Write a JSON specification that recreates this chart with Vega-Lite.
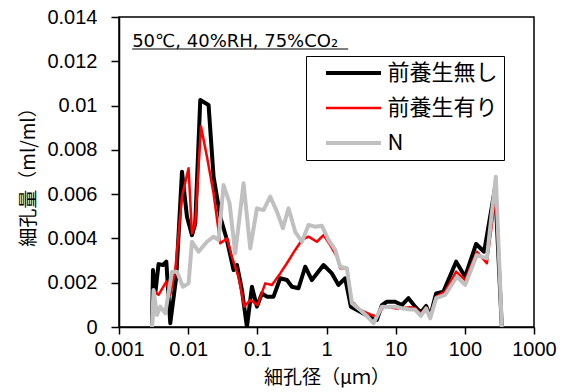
{
  "$schema": "https://vega.github.io/schema/vega-lite/v6.json",
  "width": 415,
  "height": 310,
  "autosize": {"type": "none"},
  "padding": {"left": 119, "top": 17, "right": 33, "bottom": 65},
  "config": {
    "view": {"stroke": "black", "strokeWidth": 1.5},
    "font": "Liberation Sans, Noto Sans CJK JP",
    "axis": {
      "grid": false,
      "domainColor": "black",
      "domainWidth": 1.5,
      "tickColor": "black",
      "tickWidth": 1.5,
      "labelColor": "black",
      "titleColor": "black",
      "labelFontSize": 20,
      "titleFontSize": 19,
      "titleFontWeight": "normal",
      "titleFont": "Noto Sans CJK JP",
      "labelFont": "Liberation Sans"
    }
  },
  "datasets": {
    "pore": [
      {"s": "前養生無し", "d": 0.0030, "v": 0},
      {"s": "前養生無し", "d": 0.0031, "v": 0.00257},
      {"s": "前養生無し", "d": 0.00335, "v": 0.00152},
      {"s": "前養生無し", "d": 0.00373, "v": 0.00284},
      {"s": "前養生無し", "d": 0.00432, "v": 0.0028},
      {"s": "前養生無し", "d": 0.00483, "v": 0.00295},
      {"s": "前養生無し", "d": 0.00551, "v": 0.00017},
      {"s": "前養生無し", "d": 0.00673, "v": 0.00227},
      {"s": "前養生無し", "d": 0.00814, "v": 0.00701},
      {"s": "前養生無し", "d": 0.00961, "v": 0.00498},
      {"s": "前養生無し", "d": 0.01135, "v": 0.00415},
      {"s": "前養生無し", "d": 0.01266, "v": 0.00468},
      {"s": "前養生無し", "d": 0.01496, "v": 0.01025},
      {"s": "前養生無し", "d": 0.01972, "v": 0.01003},
      {"s": "前養生無し", "d": 0.02328, "v": 0.00679},
      {"s": "前養生無し", "d": 0.0291, "v": 0.00498},
      {"s": "前養生無し", "d": 0.03636, "v": 0.00393},
      {"s": "前養生無し", "d": 0.04531, "v": 0.00257},
      {"s": "前養生無し", "d": 0.05073, "v": 0.0028},
      {"s": "前養生無し", "d": 0.05991, "v": 0.00167},
      {"s": "前養生無し", "d": 0.07075, "v": 0},
      {"s": "前養生無し", "d": 0.08356, "v": 0.00182},
      {"s": "前養生無し", "d": 0.09868, "v": 0.00092},
      {"s": "前養生無し", "d": 0.1166, "v": 0.00152},
      {"s": "前養生無し", "d": 0.1376, "v": 0.00137},
      {"s": "前養生無し", "d": 0.1715, "v": 0.00137},
      {"s": "前養生無し", "d": 0.2143, "v": 0.0022},
      {"s": "前養生無し", "d": 0.2677, "v": 0.00212},
      {"s": "前養生無し", "d": 0.3162, "v": 0.00182},
      {"s": "前養生無し", "d": 0.3939, "v": 0.00175},
      {"s": "前養生無し", "d": 0.4923, "v": 0.00272},
      {"s": "前養生無し", "d": 0.6152, "v": 0.00212},
      {"s": "前養生無し", "d": 0.905, "v": 0.0028},
      {"s": "前養生無し", "d": 1.197, "v": 0.00242},
      {"s": "前養生無し", "d": 1.491, "v": 0.0019},
      {"s": "前養生無し", "d": 1.863, "v": 0.0022},
      {"s": "前養生無し", "d": 2.252, "v": 0.00092},
      {"s": "前養生無し", "d": 3.069, "v": 0.00069},
      {"s": "前養生無し", "d": 4.531, "v": 0.00039},
      {"s": "前養生無し", "d": 5.35, "v": 0.00032},
      {"s": "前養生無し", "d": 6.319, "v": 0.00099},
      {"s": "前養生無し", "d": 7.462, "v": 0.00114},
      {"s": "前養生無し", "d": 9.835, "v": 0.00114},
      {"s": "前養生無し", "d": 12.29, "v": 0.00099},
      {"s": "前養生無し", "d": 15.31, "v": 0.0013},
      {"s": "前養生無し", "d": 19.13, "v": 0.00092},
      {"s": "前養生無し", "d": 23.13, "v": 0.00065},
      {"s": "前養生無し", "d": 27.6, "v": 0.00095},
      {"s": "前養生無し", "d": 31.52, "v": 0.00047},
      {"s": "前養生無し", "d": 38.49, "v": 0.00152},
      {"s": "前養生無し", "d": 49.07, "v": 0.0016},
      {"s": "前養生無し", "d": 74.86, "v": 0.00295},
      {"s": "前養生無し", "d": 101, "v": 0.00227},
      {"s": "前養生無し", "d": 145.6, "v": 0.00375},
      {"s": "前養生無し", "d": 190.1, "v": 0.0034},
      {"s": "前養生無し", "d": 274.1, "v": 0.0063},
      {"s": "前養生無し", "d": 342.5, "v": 0},

      {"s": "前養生有り", "d": 0.0030, "v": 0},
      {"s": "前養生有り", "d": 0.00316, "v": 0.00167},
      {"s": "前養生有り", "d": 0.00373, "v": 0.00145},
      {"s": "前養生有り", "d": 0.00483, "v": 0.00205},
      {"s": "前養生有り", "d": 0.00551, "v": 0.00145},
      {"s": "前養生有り", "d": 0.00651, "v": 0.00257},
      {"s": "前養生有り", "d": 0.00814, "v": 0.00589},
      {"s": "前養生有り", "d": 0.01013, "v": 0.00717},
      {"s": "前養生有り", "d": 0.01135, "v": 0.00423},
      {"s": "前養生有り", "d": 0.01266, "v": 0.00468},
      {"s": "前養生有り", "d": 0.01531, "v": 0.00905},
      {"s": "前養生有り", "d": 0.0187, "v": 0.00769},
      {"s": "前養生有り", "d": 0.02328, "v": 0.00604},
      {"s": "前養生有り", "d": 0.0291, "v": 0.00378},
      {"s": "前養生有り", "d": 0.03636, "v": 0.004},
      {"s": "前養生有り", "d": 0.04296, "v": 0.00317},
      {"s": "前養生有り", "d": 0.05349, "v": 0.00227},
      {"s": "前養生有り", "d": 0.06468, "v": 0.00092},
      {"s": "前養生有り", "d": 0.07897, "v": 0.00122},
      {"s": "前養生有り", "d": 0.1007, "v": 0.00099},
      {"s": "前養生有り", "d": 0.1301, "v": 0.00197},
      {"s": "前養生有り", "d": 0.1626, "v": 0.0019},
      {"s": "前養生有り", "d": 0.2143, "v": 0.00242},
      {"s": "前養生有り", "d": 0.2677, "v": 0.00288},
      {"s": "前養生有り", "d": 0.3529, "v": 0.00348},
      {"s": "前養生有り", "d": 0.4411, "v": 0.00393},
      {"s": "前養生有り", "d": 0.5494, "v": 0.00408},
      {"s": "前養生有り", "d": 0.7265, "v": 0.00385},
      {"s": "前養生有り", "d": 0.905, "v": 0.00415},
      {"s": "前養生有り", "d": 1.131, "v": 0.0037},
      {"s": "前養生有り", "d": 1.414, "v": 0.00317},
      {"s": "前養生有り", "d": 1.578, "v": 0.00265},
      {"s": "前養生有り", "d": 1.971, "v": 0.00265},
      {"s": "前養生有り", "d": 2.329, "v": 0.00114},
      {"s": "前養生有り", "d": 3.069, "v": 0.00077},
      {"s": "前養生有り", "d": 4.531, "v": 0.00054},
      {"s": "前養生有り", "d": 5.35, "v": 0.00047},
      {"s": "前養生有り", "d": 6.664, "v": 0.00092},
      {"s": "前養生有り", "d": 10.4, "v": 0.00084},
      {"s": "前養生有り", "d": 16.2, "v": 0.00089},
      {"s": "前養生有り", "d": 19.13, "v": 0.00085},
      {"s": "前養生有り", "d": 23.13, "v": 0.0006},
      {"s": "前養生有り", "d": 27.6, "v": 0.00088},
      {"s": "前養生有り", "d": 31.52, "v": 0.00045},
      {"s": "前養生有り", "d": 38.49, "v": 0.00137},
      {"s": "前養生有り", "d": 51.92, "v": 0.0016},
      {"s": "前養生有り", "d": 74.86, "v": 0.0025},
      {"s": "前養生有り", "d": 101, "v": 0.00212},
      {"s": "前養生有り", "d": 149.1, "v": 0.0034},
      {"s": "前養生有り", "d": 208, "v": 0.00288},
      {"s": "前養生有り", "d": 265, "v": 0.0054},
      {"s": "前養生有り", "d": 280, "v": 0.0064},
      {"s": "前養生有り", "d": 342.5, "v": 0},

      {"s": "N", "d": 0.0030, "v": 0},
      {"s": "N", "d": 0.00316, "v": 0.00167},
      {"s": "N", "d": 0.00354, "v": 0.00054},
      {"s": "N", "d": 0.00395, "v": 0.00092},
      {"s": "N", "d": 0.00467, "v": 0.00062},
      {"s": "N", "d": 0.00583, "v": 0.0025},
      {"s": "N", "d": 0.00689, "v": 0.0025},
      {"s": "N", "d": 0.00841, "v": 0.00182},
      {"s": "N", "d": 0.01013, "v": 0.00197},
      {"s": "N", "d": 0.01135, "v": 0.00385},
      {"s": "N", "d": 0.01413, "v": 0.0034},
      {"s": "N", "d": 0.0187, "v": 0.00385},
      {"s": "N", "d": 0.02328, "v": 0.00408},
      {"s": "N", "d": 0.0275, "v": 0.00393},
      {"s": "N", "d": 0.03248, "v": 0.00641},
      {"s": "N", "d": 0.03965, "v": 0.00559},
      {"s": "N", "d": 0.04794, "v": 0.00333},
      {"s": "N", "d": 0.06319, "v": 0.00649},
      {"s": "N", "d": 0.07897, "v": 0.00355},
      {"s": "N", "d": 0.09868, "v": 0.00536},
      {"s": "N", "d": 0.1229, "v": 0.00528},
      {"s": "N", "d": 0.1536, "v": 0.00589},
      {"s": "N", "d": 0.192, "v": 0.00521},
      {"s": "N", "d": 0.2344, "v": 0.00446},
      {"s": "N", "d": 0.2824, "v": 0.00536},
      {"s": "N", "d": 0.3529, "v": 0.0043},
      {"s": "N", "d": 0.4411, "v": 0.00385},
      {"s": "N", "d": 0.5494, "v": 0.00461},
      {"s": "N", "d": 0.6866, "v": 0.00453},
      {"s": "N", "d": 0.8581, "v": 0.00457},
      {"s": "N", "d": 1.069, "v": 0.00393},
      {"s": "N", "d": 1.335, "v": 0.00348},
      {"s": "N", "d": 1.578, "v": 0.00272},
      {"s": "N", "d": 1.971, "v": 0.00265},
      {"s": "N", "d": 2.329, "v": 0.00107},
      {"s": "N", "d": 3.069, "v": 0.00077},
      {"s": "N", "d": 3.835, "v": 0.0005},
      {"s": "N", "d": 4.778, "v": 0.00017},
      {"s": "N", "d": 6.319, "v": 0.00092},
      {"s": "N", "d": 7.87, "v": 0.0009},
      {"s": "N", "d": 9.835, "v": 0.00092},
      {"s": "N", "d": 12.29, "v": 0.00085},
      {"s": "N", "d": 15.31, "v": 0.0008},
      {"s": "N", "d": 19.13, "v": 0.00078},
      {"s": "N", "d": 23.13, "v": 0.0005},
      {"s": "N", "d": 27.6, "v": 0.00084},
      {"s": "N", "d": 31.52, "v": 0.00039},
      {"s": "N", "d": 38.49, "v": 0.0013},
      {"s": "N", "d": 51.92, "v": 0.00145},
      {"s": "N", "d": 76.63, "v": 0.00227},
      {"s": "N", "d": 101, "v": 0.0019},
      {"s": "N", "d": 149.1, "v": 0.00325},
      {"s": "N", "d": 208, "v": 0.0031},
      {"s": "N", "d": 280.5, "v": 0.00679},
      {"s": "N", "d": 342.5, "v": 0}
    ],
    "note": [
      {"label": "50℃, 40%RH, 75%CO₂", "d": 0.00155, "d2": 2.06, "v": 0.012667, "u": 0.012555}
    ]
  },
  "layer": [
    {
      "data": {"name": "pore"},
      "mark": {"type": "line", "clip": true, "strokeJoin": "round"},
      "encoding": {
        "x": {
          "field": "d",
          "type": "quantitative",
          "scale": {"type": "log", "domain": [0.001, 1000]},
          "axis": {
            "values": [0.001, 0.01, 0.1, 1, 10, 100, 1000],
            "format": "~g",
            "title": "細孔径（μｍ）",
            "tickSize": 7,
            "labelPadding": 5,
            "titlePadding": 9,
            "labelFlush": false
          }
        },
        "y": {
          "field": "v",
          "type": "quantitative",
          "scale": {"domain": [0, 0.014]},
          "axis": {
            "values": [0, 0.002, 0.004, 0.006, 0.008, 0.01, 0.012, 0.014],
            "format": "~g",
            "title": "細孔量（ml/ml）",
            "tickSize": 8,
            "labelPadding": 14,
            "titlePadding": 8
          }
        },
        "color": {
          "field": "s",
          "type": "nominal",
          "scale": {"domain": ["前養生無し", "前養生有り", "N"], "range": ["#000000", "#FF0000", "#C0C0C0"]},
          "legend": {
            "title": null,
            "orient": "none",
            "legendX": 187,
            "legendY": 39,
            "strokeColor": "black",
            "padding": 6,
            "symbolType": "M-2.5,0H2.5",
            "symbolSize": 484,
            "symbolStrokeWidth": 4,
            "symbolOffset": 30.5,
            "labelFont": "Noto Sans CJK JP",
            "labelFontSize": 22,
            "labelColor": "black",
            "labelOffset": 23,
            "rowPadding": 13,
            "labelExpr": "datum.label + '\u3000'",
            "encode": {
              "symbols": {"update": {"strokeWidth": {"signal": "datum.value === '前養生有り' ? 2.5 : 4"}}}
            }
          }
        },
        "strokeWidth": {
          "condition": {"test": "datum.s === '前養生有り'", "value": 2.5},
          "value": 4
        }
      }
    },
    {
      "data": {"name": "note"},
      "mark": {"type": "text", "align": "left", "baseline": "alphabetic", "font": "DejaVu Sans", "fontSize": 18, "color": "black"},
      "encoding": {
        "x": {"field": "d", "type": "quantitative"},
        "y": {"field": "v", "type": "quantitative"},
        "text": {"field": "label"}
      }
    },
    {
      "data": {"name": "note"},
      "mark": {"type": "rule", "color": "black", "strokeWidth": 1.2},
      "encoding": {
        "x": {"field": "d", "type": "quantitative"},
        "x2": {"field": "d2"},
        "y": {"field": "u", "type": "quantitative"}
      }
    }
  ]
}
